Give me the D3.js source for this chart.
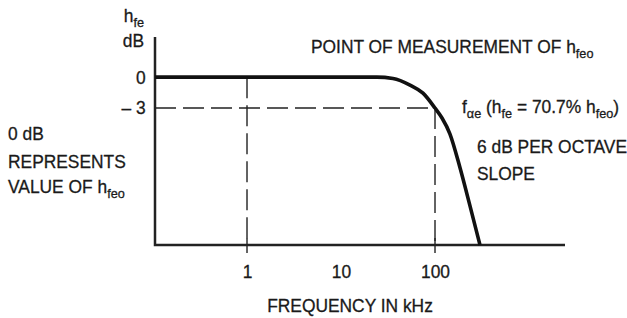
<!DOCTYPE html>
<html>
<head>
<meta charset="utf-8">
<script src="https://cdn.jsdelivr.net/npm/d3@7"></script>
<style>
  body { margin: 0; background: #fff; }
  text { font-family: "Liberation Sans", Arial, sans-serif; fill: #1a1a1a; stroke: #1a1a1a; stroke-width: 0.3px; }
</style>
</head>
<body>
<script>
// frequency response of h_fe (schematic)
const freqKHz = [0.105, 24, 35.7, 54.2, 74.5, 100, 118.7, 144, 184.5, 235.6, 301];
const gainDB  = [0, 0, -0.13, -0.77, -1.55, -3, -3.97, -5.5, -8.8, -12.5, -16.3];

const xTicks = [1, 10, 100];
const xTickLabels = ["1", "10", "100"];
const yTicks = [0, -3];
const yTickLabels = ["0", "\u2013 3"];

const cornerFreq = 100;   // f_alpha_e
const cornerDB = -3;
const dashedFreqs = [1, 100];

const width = 627, height = 318;
const marginLeft = 155, axisRight = 565, axisTop = 37, axisBottom = 245;
const fontSize = 18.5, subSize = 13.5, squeeze = 0.94;

const x = d3.scaleLog().domain([0.105, 2415]).range([marginLeft, axisRight]);
const y = d3.scaleLinear().domain([-16.3, 3.9]).range([axisBottom, axisTop]);

const svg = d3.select(document.body).append("svg")
    .attr("width", width)
    .attr("height", height);

// dashed guides
const guides = svg.append("g")
    .attr("stroke", "#222")
    .attr("stroke-width", 1.4)
    .attr("stroke-dasharray", "21,7")
    .attr("fill", "none");
guides.append("line")
    .attr("x1", marginLeft).attr("x2", x(cornerFreq))
    .attr("y1", y(cornerDB)).attr("y2", y(cornerDB));
guides.append("line")
    .attr("x1", x(1)).attr("x2", x(1))
    .attr("y1", y(0)).attr("y2", axisBottom);
guides.append("line")
    .attr("x1", x(cornerFreq)).attr("x2", x(cornerFreq))
    .attr("y1", y(cornerDB)).attr("y2", axisBottom);

// tick marks where the guides hit the axis
svg.append("g").selectAll("line")
    .data(dashedFreqs)
    .enter().append("line")
    .attr("x1", d => x(d)).attr("x2", d => x(d))
    .attr("y1", axisBottom - 7).attr("y2", axisBottom + 8)
    .attr("stroke", "#222")
    .attr("stroke-width", 1.4);

// axes
const xAxis = svg.append("g")
    .attr("transform", `translate(0,${axisBottom})`)
    .call(d3.axisBottom(x).tickValues(xTicks).tickSize(0).tickPadding(20)
        .tickFormat((d, i) => xTickLabels[i]));
const yAxis = svg.append("g")
    .attr("transform", `translate(${marginLeft},0)`)
    .call(d3.axisLeft(y).tickValues(yTicks).tickSize(0).tickPadding(10)
        .tickFormat((d, i) => yTickLabels[i]));

[xAxis, yAxis].forEach(g => {
    g.select(".domain").remove();
    g.selectAll("text")
        .style("font-family", '"Liberation Sans", Arial, sans-serif')
        .style("font-size", fontSize + "px")
        .attr("fill", "#1a1a1a")
        .attr("transform", `scale(${squeeze},1)`);
});

svg.append("path")
    .attr("d", `M${marginLeft},${axisTop}V${axisBottom}H${axisRight}`)
    .attr("fill", "none")
    .attr("stroke", "#222")
    .attr("stroke-width", 2.5);

// response curve
const line = d3.line()
    .x((d, i) => x(freqKHz[i]))
    .y(d => y(d))
    .curve(d3.curveMonotoneX);

svg.append("path")
    .datum(gainDB)
    .attr("d", line)
    .attr("fill", "none")
    .attr("stroke", "#111")
    .attr("stroke-width", 3.6)
    .attr("stroke-linejoin", "round");

// text with subscripts, slightly condensed like the original lettering
const label = function (xPos, yPos, parts, anchor) {
    const t = svg.append("text")
        .attr("transform", `translate(${xPos},${yPos}) scale(${squeeze},1)`)
        .attr("text-anchor", anchor || "start")
        .style("font-size", fontSize + "px");
    let shifted = false;
    parts.forEach(p => {
        const sub = Array.isArray(p);
        const s = t.append("tspan").text(sub ? p[0] : p);
        if (sub && !shifted) { s.attr("dy", 5).style("font-size", subSize + "px"); shifted = true; }
        else if (sub) { s.style("font-size", subSize + "px"); }
        else if (shifted) { s.attr("dy", -5); shifted = false; }
    });
    return t;
};

label(144, 22, ["h", ["fe"]], "end");
label(144, 47, ["dB"], "end");
label(311, 53, ["POINT OF MEASUREMENT OF h", ["feo"]]);
label(462, 113, ["f", ["\u03b1e"], " (h", ["fe"], " = 70.7% h", ["feo"], ")"]);
label(477, 153, ["6 dB PER OCTAVE"]);
label(477, 180, ["SLOPE"]);
label(8, 140, ["0 dB"]);
label(8, 168, ["REPRESENTS"]);
label(8, 193, ["VALUE OF h", ["feo"]]);
label(350, 312, ["FREQUENCY IN kHz"], "middle");
</script>
</body>
</html>
